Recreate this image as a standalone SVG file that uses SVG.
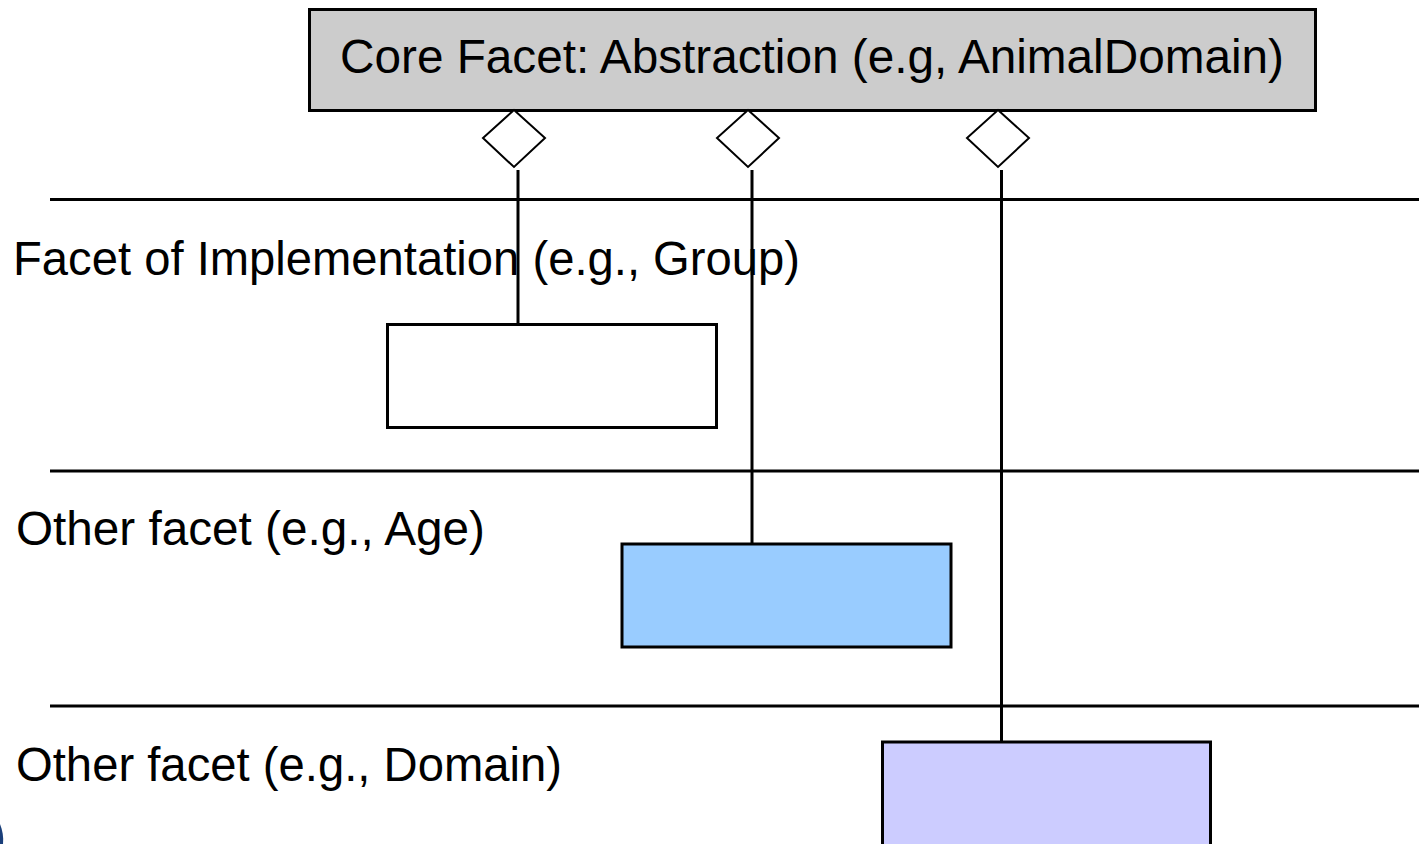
<svg xmlns="http://www.w3.org/2000/svg" width="1419" height="844" viewBox="0 0 1419 844">
<style>
text{font-family:"Liberation Sans",Arial,sans-serif;font-size:47.5px;fill:#000}
.box{stroke:#000;stroke-width:3}
.sep{stroke:#000;stroke-width:3}
.stem{stroke:#000;stroke-width:3}
.dia{fill:#fff;stroke:#000;stroke-width:2}
</style>
<rect width="1419" height="844" fill="#fff"/>
<g id="lanes">
<line class="sep" x1="50" y1="199.5" x2="1419" y2="199.5"/>
<line class="sep" x1="50" y1="471" x2="1419" y2="471"/>
<line class="sep" x1="50" y1="706" x2="1419" y2="706"/>
<text x="13" y="275" textLength="787" lengthAdjust="spacingAndGlyphs">Facet of Implementation (e.g., Group)</text>
<text x="16" y="545" textLength="469" lengthAdjust="spacingAndGlyphs">Other facet (e.g., Age)</text>
<text x="16" y="781" textLength="546" lengthAdjust="spacingAndGlyphs">Other facet (e.g., Domain)</text>
</g>
<g id="core">
<rect class="box" x="309.5" y="9.5" width="1006" height="101" fill="#cccccc"/>
<text x="340" y="73" textLength="944" lengthAdjust="spacingAndGlyphs">Core Facet: Abstraction (e.g, AnimalDomain)</text>
</g>
<g id="connectors">
<line class="stem" x1="518" y1="170" x2="518" y2="326"/>
<line class="stem" x1="752" y1="170" x2="752" y2="546"/>
<line class="stem" x1="1001.5" y1="170" x2="1001.5" y2="743"/>
<polygon class="dia" points="514,110 545,138 514,167 483,138"/>
<polygon class="dia" points="748,110 779,138 748,167 717,138"/>
<polygon class="dia" points="998,110 1029,138 998,167 967,138"/>
</g>
<g id="implementation">
<rect class="box" x="387.5" y="324.5" width="329" height="103" fill="#ffffff"/>
</g>
<g id="age">
<rect class="box" x="622" y="544" width="329" height="103" fill="#99ccff"/>
</g>
<g id="domain">
<rect class="box" x="882.5" y="742" width="328" height="110" fill="#ccccff"/>
</g>
<path d="M0,824 Q4,834 3,844 L0,844 Z" fill="#1a3f7a"/>
</svg>
